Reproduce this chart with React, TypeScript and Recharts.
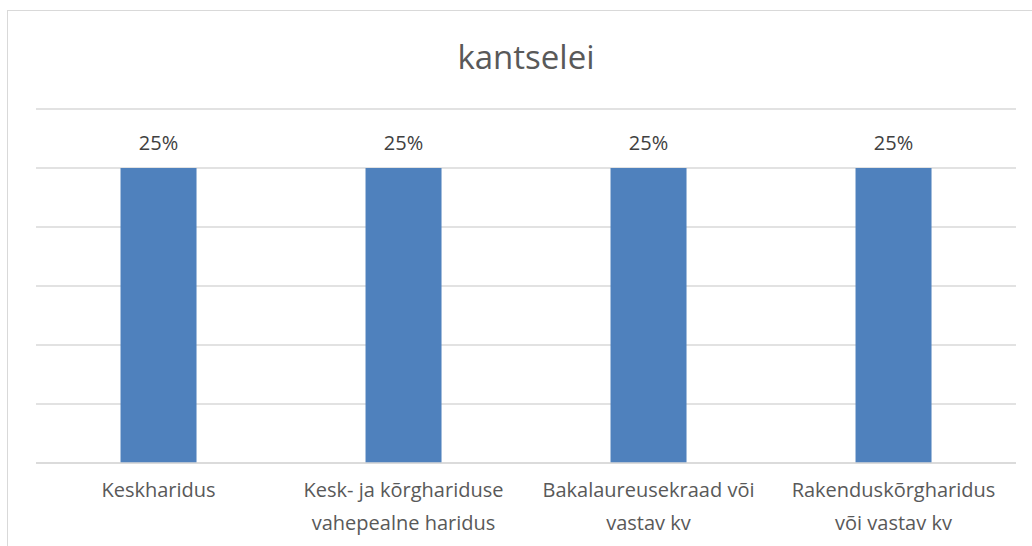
import React from "react";
import {Bar, BarChart, CartesianGrid, LabelList, XAxis, YAxis} from "recharts";

const categories = [
  "Keskharidus",
  "Kesk- ja kõrghariduse vahepealne haridus",
  "Bakalaureusekraad või vastav kv",
  "Rakenduskõrgharidus või vastav kv",
];
const tickLines = [
  ["Keskharidus"],
  ["Kesk- ja kõrghariduse", "vahepealne haridus"],
  ["Bakalaureusekraad või", "vastav kv"],
  ["Rakenduskõrgharidus", "või vastav kv"],
];
const values = [0.25, 0.25, 0.25, 0.25];
const yTicks = [0, 0.05, 0.1, 0.15, 0.2, 0.25, 0.3];

const data = categories.map((name, i) => ({name, value: values[i]}));

const FONT = "'Open Sans', Lato, sans-serif";

const CategoryTick = (props: any) => {
  const {x, y, index} = props;
  const lines = tickLines[index] || [];
  return (
    <text x={x} y={y} textAnchor="middle" fill="#595959" fontSize={20} fontFamily={FONT}>
      {lines.map((line, i) => (
        <tspan key={i} x={x} y={y + 34 + i * 33}>{line}</tspan>
      ))}
    </text>
  );
};

const App = () => {
  return (
    <div style={{position: "absolute", left: 0, top: 0, width: 1032, height: 546, overflow: "hidden", background: "#fff"}}>
      <div style={{
        position: "absolute", left: 7, top: 10, width: 1100, height: 600,
        border: "1.5px solid #D9D9D9",
      }}/>
      <div style={{
        position: "absolute", left: 0, top: 37, width: 1052, textAlign: "center",
        fontFamily: FONT, fontSize: 33, color: "#595959", lineHeight: "40px",
      }}>
        kantselei
      </div>
      <div style={{position: "absolute", left: 0, top: 0}}>
        <BarChart width={1032} height={546} data={data}
                  margin={{top: 109, right: 16, bottom: 0, left: 36}}
                  barCategoryGap="34.5%">
          <CartesianGrid vertical={false} stroke="#D9D9D9" strokeWidth={1.5}/>
          <XAxis dataKey="name" height={83} tickLine={false} tickSize={0} tickMargin={0}
                 axisLine={{stroke: "#D9D9D9", strokeWidth: 1.5}}
                 interval={0} tick={<CategoryTick/>}/>
          <YAxis hide domain={[0, 0.3]} ticks={yTicks} type="number"/>
          <Bar dataKey="value" fill="#4F81BD" isAnimationActive={false}>
            <LabelList dataKey="value" position="top" offset={18}
                       formatter={(v: any) => `${Math.round(v * 100)}%`}
                       style={{fill: "#404040", fontSize: 20, fontFamily: FONT}}/>
          </Bar>
        </BarChart>
      </div>
    </div>
  );
};

export default App;
